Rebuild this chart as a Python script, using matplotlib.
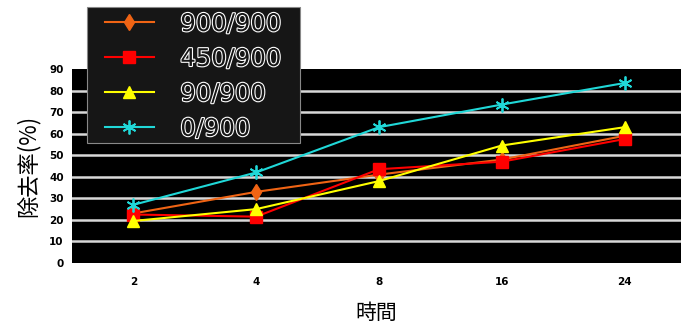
import matplotlib
matplotlib.use('Agg')
import matplotlib.pyplot as plt
import matplotlib.patheffects as pe
from matplotlib.patches import Rectangle

plt.rcParams['font.family'] = ['Noto Sans CJK TC', 'DejaVu Sans']

# 處理時間 (x) 與各組除去率 (%)
hours = ['2', '4', '8', '16', '24']
series_names = ['900/900', '450/900', '90/900', '0/900']
r_900 = [23, 33, 41, 48, 59]
r_450 = [22.5, 21.5, 43.5, 47, 57.5]
r_90 = [19.5, 25, 38, 54.5, 63]
r_0 = [27, 42, 63, 73.5, 83.5]
yticks = [0, 10, 20, 30, 40, 50, 60, 70, 80, 90]

W, H = 681, 331
fig = plt.figure(figsize=(W / 100, H / 100), dpi=100)
ax = fig.add_axes([72 / W, 68 / H, 1 - 72 / W, 194 / H])
ax.set_facecolor('black')

x = range(len(hours))
ax.plot(x, r_900, color='#f06414', marker='d', markersize=8, lw=1.5, label=series_names[0])
ax.plot(x, r_450, color='#ff0000', marker='s', markersize=8, lw=1.5, label=series_names[1])
ax.plot(x, r_90, color='#ffff00', marker='^', markersize=9, lw=1.5, label=series_names[2])
ax.plot(x, r_0, color='#20d8d8', marker=(6, 2, 0), markersize=10, mew=1.3, lw=1.5, label=series_names[3])

ax.set_xlim(-0.5, 4.46)
ax.set_ylim(0, 90)
ax.set_xticks(list(x))
ax.set_xticklabels(hours)
ax.set_yticks(yticks)
ax.tick_params(axis='both', length=0, labelsize=7.5)
ax.tick_params(axis='y', pad=6)
ax.tick_params(axis='x', pad=10)
for t in ax.get_xticklabels() + ax.get_yticklabels():
    t.set_fontweight('bold')
    t.set_family('DejaVu Sans')

for v in yticks[1:-1]:
    ax.axhline(v, color='#d8d8d8', lw=1.8, zorder=0.5)
for s in ax.spines.values():
    s.set_visible(False)

ax.set_ylabel('除去率(%)', fontsize=16, labelpad=7)
ax.set_xlabel('時間', fontsize=15, labelpad=11)

# legend box drawn separately so its padding can differ per side
box = Rectangle((87 / W, 1 - 143 / H), 213 / W, 136 / H, transform=fig.transFigure,
                facecolor='#161616', edgecolor='#888888', lw=0.8,
                clip_on=False, zorder=4.9)
ax.add_patch(box)

leg = ax.legend(loc='upper left', bbox_to_anchor=(105 / W, 1 - 12 / H),
                bbox_transform=fig.transFigure, borderaxespad=0,
                fontsize=17.5, handlelength=2.0, handletextpad=1.1,
                labelspacing=0.45, borderpad=0.0, frameon=False)
for t in leg.get_texts():
    t.set_family('DejaVu Sans')
    t.set_color('#161616')
    t.set_path_effects([pe.withStroke(linewidth=1.6, foreground='white')])

fig.savefig('out.png', dpi=100)
